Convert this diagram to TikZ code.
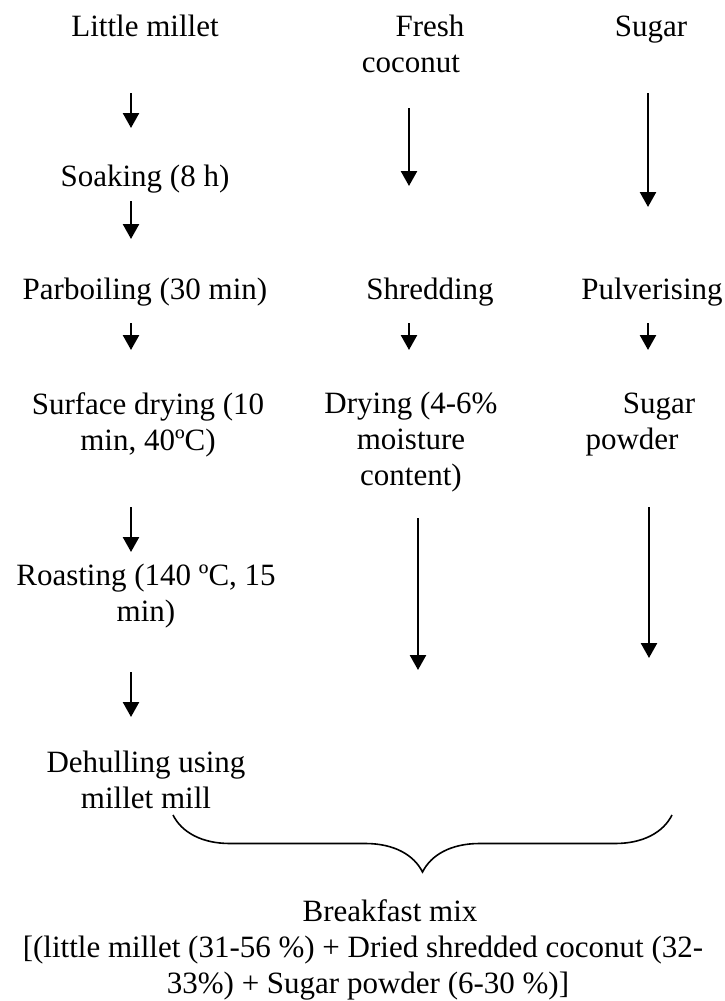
\documentclass[tikz,border=0pt]{standalone}
\usepackage{fontspec}
\setmainfont{Liberation Serif}
\usepackage{tikz}
\usetikzlibrary{arrows.meta, calc, decorations.pathreplacing}

\tikzset{
	flow/.style={-{Triangle[width=16pt,length=15pt]}, line width=2.5pt},
	stage/.style={font=\fontsize{31}{36}\selectfont, inner sep=0pt, anchor=base, align=center},
	curly/.style={decorate, decoration={brace, mirror, amplitude=57pt}, line width=1.6pt},
}

\begin{document}
\begin{tikzpicture}[x=1pt,y=-1pt]
	\useasboundingbox (0,0) rectangle (724,1001);

	\coordinate (LM) at (145,36);
	\coordinate (FC) at (411,72);
	\coordinate (SU) at (651,36);
	\coordinate (SO) at (145,186);
	\coordinate (PB) at (145,299);
	\coordinate (SH) at (430,299);
	\coordinate (PV) at (652,299);
	\coordinate (SD) at (148,450);
	\coordinate (DR) at (411,485);
	\coordinate (SP) at (632,449);
	\coordinate (RO) at (146,621);
	\coordinate (DH) at (146,808);
	\coordinate (BM) at (363,993);

	\coordinate (BrL) at (173,815);
	\coordinate (BrR) at (672,815);

	\node[stage] (lm) at (LM) {Little millet};
	\node[stage] (fc) at (FC) {\hspace*{38pt}Fresh\\coconut};
	\node[stage] (su) at (SU) {Sugar};
	\node[stage] (so) at (SO) {Soaking (8 h)};
	\node[stage] (pb) at (PB) {Parboiling (30 min)};
	\node[stage] (sh) at (SH) {Shredding};
	\node[stage] (pv) at (PV) {Pulverising};
	\node[stage] (sd) at (SD) {Surface drying (10\\min, 40ºC)};
	\node[stage] (dr) at (DR) {Drying (4-6\%\\moisture\\content)};
	\node[stage] (sp) at (SP) {\hspace*{54pt}Sugar\\powder};
	\node[stage] (ro) at (RO) {Roasting (140 ºC, 15\\min)};
	\node[stage] (dh) at (DH) {Dehulling using\\millet mill};
	\node[stage] (bm) at (BM) {\hspace*{54pt}Breakfast mix\\{[}(little millet (31-56 \%) + Dried shredded coconut (32-\\\hspace*{10pt}33\%) + Sugar powder (6-30 \%)]};

	\draw[flow] ($(LM)+(-14,57)$) -- ($(SO)+(-14,-58)$);
	\draw[flow] ($(SO)+(-14,15)$) -- ($(PB)+(-14,-60)$);
	\draw[flow] ($(PB)+(-14,24)$) -- ($(SD)+(-17,-100)$);
	\draw[flow] ($(SD)+(-17,57)$) -- ($(RO)+(-15,-69)$);
	\draw[flow] ($(RO)+(-15,51)$) -- ($(DH)+(-15,-91)$);

	\draw[flow] ($(FC)+(-2,36)$) -- ($(SH)+(-21,-113)$);
	\draw[flow] ($(SH)+(-21,24)$) -- ($(DR)+(-2,-135)$);
	\draw[flow] ($(DR)+(7,33)$) -- ($(DR)+(7,185)$);

	\draw[flow] ($(SU)+(-3,57)$) -- ($(PV)+(-4,-92)$);
	\draw[flow] ($(PV)+(-4,24)$) -- ($(SP)+(16,-99)$);
	\draw[flow] ($(SP)+(17,58)$) -- ($(SP)+(17,209)$);

	\draw[curly] (BrL) -- (BrR);
\end{tikzpicture}
\end{document}
